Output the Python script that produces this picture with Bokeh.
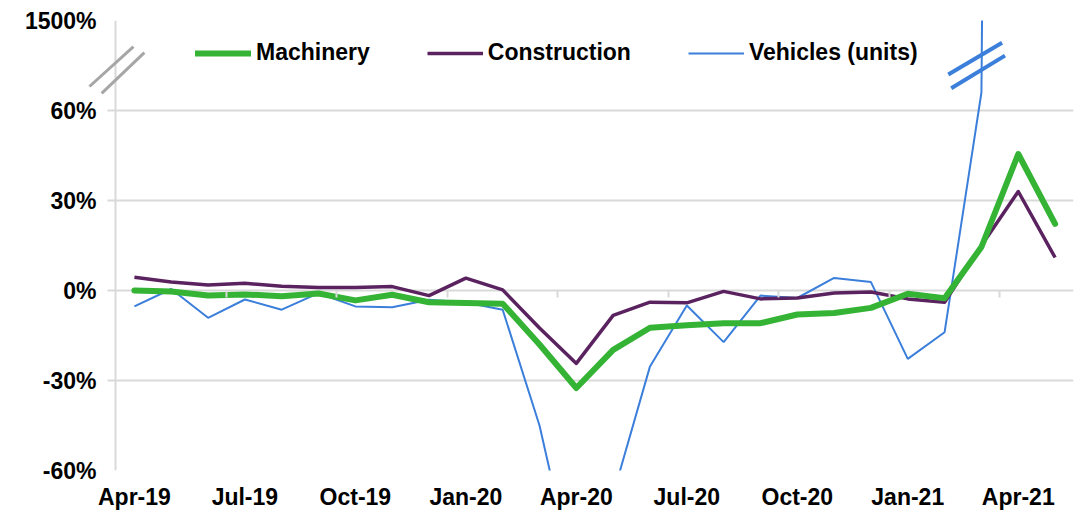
import math
from bokeh.plotting import figure
from bokeh.models import (Range1d, FixedTicker, LinearAxis, Legend, LegendItem,
                          PolyAnnotation, ColumnDataSource)
from bokeh.embed import file_html
from bokeh.resources import INLINE

# ---------------- data ----------------
months = ["Apr-19", "May-19", "Jun-19", "Jul-19", "Aug-19", "Sep-19", "Oct-19",
          "Nov-19", "Dec-19", "Jan-20", "Feb-20", "Mar-20", "Apr-20", "May-20",
          "Jun-20", "Jul-20", "Aug-20", "Sep-20", "Oct-20", "Nov-20", "Dec-20",
          "Jan-21", "Feb-21", "Mar-21", "Apr-21", "May-21"]

machinery = [0.0, -0.3, -1.7, -1.3, -1.9, -1.0, -3.3, -1.4, -3.9, -4.2, -4.4,
             -18.0, -32.5, -19.8, -12.4, -11.6, -10.9, -10.9, -8.0, -7.5, -5.8,
             -1.1, -2.6, 14.5, 45.5, 22.2]

construction = [4.4, 2.8, 1.8, 2.4, 1.4, 1.0, 1.0, 1.3, -1.7, 4.1, 0.2,
                -12.5, -24.3, -8.3, -3.9, -4.1, -0.3, -2.8, -2.5, -0.8, -0.5,
                -2.8, -3.9, 15.0, 33.0, 11.0]

vehicles = [-5.3, 0.5, -9.1, -3.0, -6.4, -0.9, -5.3, -5.6, -3.1, -4.0, -6.4,
            -45.0, -99.0, -68.0, -25.3, -5.0, -17.2, -1.7, -2.5, 4.2, 2.8,
            -22.8, -13.9, 66.0, 1500.0, float("nan")]

series_names = ["Machinery", "Construction", "Vehicles (units)"]

y_ticks = [-60, -30, 0, 30, 60, 90]
y_tick_labels = ["-60%", "-30%", "0%", "30%", "60%", "1500%"]
x_label_months = ["Apr-19", "Jul-19", "Oct-19", "Jan-20", "Apr-20", "Jul-20",
                  "Oct-20", "Jan-21", "Apr-21"]

# ---------------- styles ----------------
GREEN = "#35b335"
PURPLE = "#5a2360"
BLUE = "#3b7fdb"
GRID = "#d9d9d9"
BREAK_GREY = "#a6a6a6"
FONT = "Liberation Sans"
FS = "23px"

# layout: frame starts a little left of the category area so the axis-break
# mark on the value axis can be drawn
CAT_PX = 36.83
EXTRA_LEFT_PX = 30.5
TICK_PX = 8
n = len(months)
x_start = -0.5 - EXTRA_LEFT_PX / CAT_PX

idx = list(range(n))
src = ColumnDataSource(dict(x=idx, m=machinery, c=construction, v=vehicles))

p = figure(width=1076, height=512, x_range=Range1d(x_start, n - 0.5),
           y_range=Range1d(-60, 90), output_backend="svg", toolbar_location=None,
           y_axis_location=None,
           min_border_left=85, min_border_right=3, min_border_top=20,
           min_border_bottom=0)
p.outline_line_color = None
p.background_fill_color = "white"
p.border_fill_color = "white"

# bottom axis with month labels
xt = [months.index(m) for m in x_label_months]
p.xaxis.ticker = FixedTicker(ticks=xt)
p.xaxis.major_label_overrides = {i: months[i] for i in xt}
p.xaxis.axis_line_color = None
p.xaxis.major_tick_line_color = None
p.xaxis.minor_tick_line_color = None
p.xaxis.major_tick_out = 0
p.xaxis.major_tick_in = 0
p.xaxis.major_label_standoff = 13
p.xaxis.major_label_text_font = FONT
p.xaxis.major_label_text_font_style = "bold"
p.xaxis.major_label_text_font_size = FS
p.xaxis.major_label_text_color = "black"

# value-axis labels (regular left axis, labels pulled toward the axis line)
ylabels = LinearAxis(ticker=FixedTicker(ticks=y_ticks),
                     major_label_overrides={t: l for t, l in zip(y_ticks, y_tick_labels)},
                     axis_line_color=None, major_tick_line_color=None,
                     major_tick_out=0, major_tick_in=0, minor_tick_line_color=None,
                     major_label_standoff=-11, major_label_text_font=FONT,
                     major_label_text_font_style="bold",
                     major_label_text_font_size=FS,
                     major_label_text_color="black")
p.add_layout(ylabels, "left")

# value-axis line at the start of the category area
yline = LinearAxis(fixed_location=-0.5, ticker=FixedTicker(ticks=y_ticks),
                   major_label_overrides={t: "" for t in y_ticks},
                   axis_line_color=GRID, axis_line_width=2,
                   major_tick_line_color=None, major_tick_out=0, major_tick_in=0,
                   minor_tick_line_color=None)
p.add_layout(yline, "left")

p.xgrid.grid_line_color = None
p.ygrid.ticker = FixedTicker(ticks=y_ticks)
p.ygrid.grid_line_color = GRID
p.ygrid.grid_line_width = 2
p.ygrid.cross_bounds = (-0.5 - TICK_PX / CAT_PX, n - 0.5)

# tick marks on the zero line (category boundaries every quarter)
zt = [i - 0.5 for i in range(3, n, 3)]
zero_axis = LinearAxis(fixed_location=0, ticker=FixedTicker(ticks=zt),
                       major_label_overrides={t: "" for t in zt},
                       axis_line_color=None, major_tick_line_color=GRID,
                       major_tick_line_width=2, major_tick_out=7, major_tick_in=0,
                       minor_tick_line_color=None)
p.add_layout(zero_axis, "below")

# series
r_v = p.line("x", "v", source=src, line_color=BLUE, line_width=2)
r_c = p.line("x", "c", source=src, line_color=PURPLE, line_width=3.5,
             line_join="round")
r_m = p.line("x", "m", source=src, line_color=GREEN, line_width=6,
             line_join="round", line_cap="round")

legend = Legend(items=[LegendItem(label=series_names[0], renderers=[r_m]),
                       LegendItem(label=series_names[1], renderers=[r_c]),
                       LegendItem(label=series_names[2], renderers=[r_v])],
                orientation="horizontal", location=(110, 404),
                glyph_width=56, glyph_height=20, label_standoff=5, spacing=57,
                padding=0, margin=0, border_line_color=None,
                background_fill_alpha=0,
                label_text_font=FONT, label_text_font_style="bold",
                label_text_font_size=FS, label_text_color="black")
p.add_layout(legend, "center")

# axis-break marks (decoration)
for xs, ys in [([-1.22, -0.025], [68.0, 81.3]), ([-0.89, 0.27], [65.7, 79.3])]:
    p.add_layout(PolyAnnotation(xs=xs, ys=ys, line_color=BREAK_GREY,
                                line_alpha=1.0, line_width=3,
                                fill_color=None, fill_alpha=0))
for xs, ys in [([22.1, 23.56], [72.0, 82.6]), ([22.18, 23.64], [67.4, 78.3])]:
    p.add_layout(PolyAnnotation(xs=xs, ys=ys, line_color=BLUE,
                                line_alpha=1.0, line_width=4,
                                fill_color=None, fill_alpha=0))

open("out.html", "w").write(file_html(p, INLINE))
